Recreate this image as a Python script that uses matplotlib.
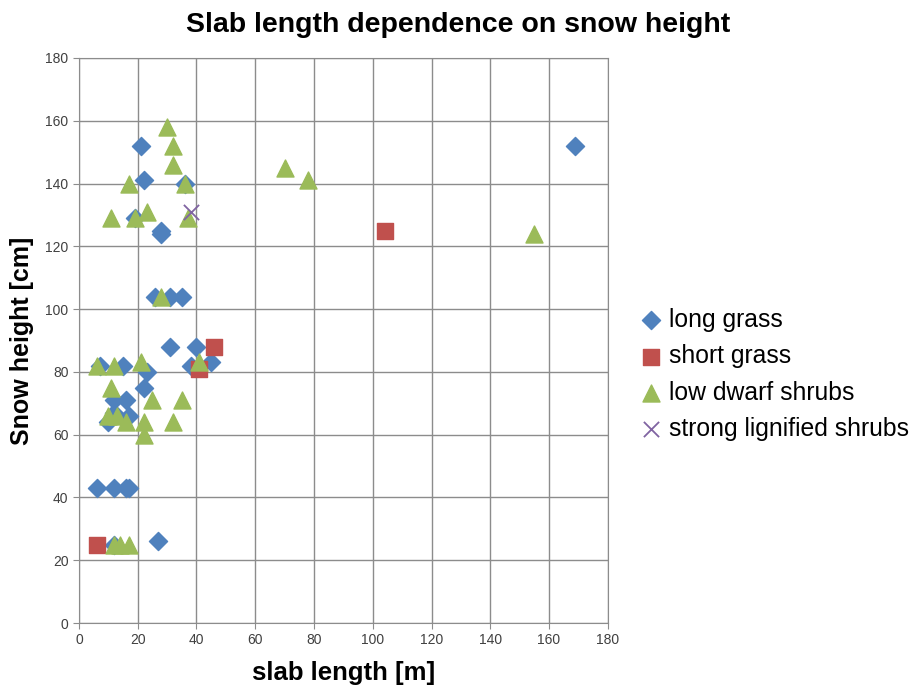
import matplotlib.pyplot as plt

plt.rcParams['font.family'] = ['Liberation Sans', 'DejaVu Sans']

# slab length [m], snow height [cm] per vegetation type
long_grass_x = [21, 22, 36, 19, 28, 28, 26, 31, 35, 31, 40, 38, 45, 7, 15, 23,
                22, 12, 16, 17, 12, 10, 6, 12, 16, 17, 12, 27, 169]
long_grass_y = [152, 141, 140, 129, 125, 124, 104, 104, 104, 88, 88, 82, 83, 82, 82, 80,
                75, 71, 71, 66, 67, 64, 43, 43, 43, 43, 25, 26, 152]

short_grass_x = [6, 46, 41, 104]
short_grass_y = [25, 88, 81, 125]

dwarf_x = [30, 32, 32, 17, 36, 11, 19, 23, 37, 28, 41, 6, 12, 21, 11, 25, 35,
           10, 13, 16, 22, 32, 22, 12, 14, 17, 70, 78, 155]
dwarf_y = [158, 152, 146, 140, 140, 129, 129, 131, 129, 104, 83, 82, 82, 83, 75, 71, 71,
           66, 66, 64, 64, 64, 60, 25, 25, 25, 145, 141, 124]

lignified_x = [38]
lignified_y = [131]

fig = plt.figure(figsize=(9.14, 6.86), dpi=100)
ax = fig.add_axes([0.0864, 0.0918, 0.5786, 0.8237])

ax.scatter(long_grass_x, long_grass_y, marker='D', s=85, color='#4F81BD',
           label='long grass', zorder=3)
ax.scatter(short_grass_x, short_grass_y, marker='s', s=130, color='#C0504D',
           label='short grass', zorder=3)
ax.scatter(dwarf_x, dwarf_y, marker='^', s=150, color='#9BBB59',
           label='low dwarf shrubs', zorder=3)
ax.scatter(lignified_x, lignified_y, marker='x', s=120, color='#8064A2',
           linewidths=1.3, label='strong lignified shrubs', zorder=3)

ax.set_xlim(0, 180)
ax.set_ylim(0, 180)
ax.set_xticks(range(0, 181, 20))
ax.set_yticks(range(0, 181, 20))
ax.grid(True, color='#8c8c8c', linewidth=1)
ax.set_axisbelow(True)
for side in ax.spines.values():
    side.set_color('#8c8c8c')
ax.tick_params(colors='#8c8c8c', labelcolor='#404040', labelsize=10, length=4)

ax.set_xlabel('slab length [m]', fontsize=18.5, fontweight='bold', labelpad=10)
ax.set_ylabel('Snow height [cm]', fontsize=18, fontweight='bold', labelpad=8)
fig.suptitle('Slab length dependence on snow height', fontsize=20.5,
             fontweight='bold', x=0.501, y=0.982)

ax.legend(loc='center left', bbox_to_anchor=(1.03, 0.44), frameon=False,
          fontsize=17.8, handlelength=1.0, handletextpad=0.25,
          labelspacing=0.5, scatterpoints=1, borderaxespad=0.2)

fig.savefig('out.png', dpi=100)
